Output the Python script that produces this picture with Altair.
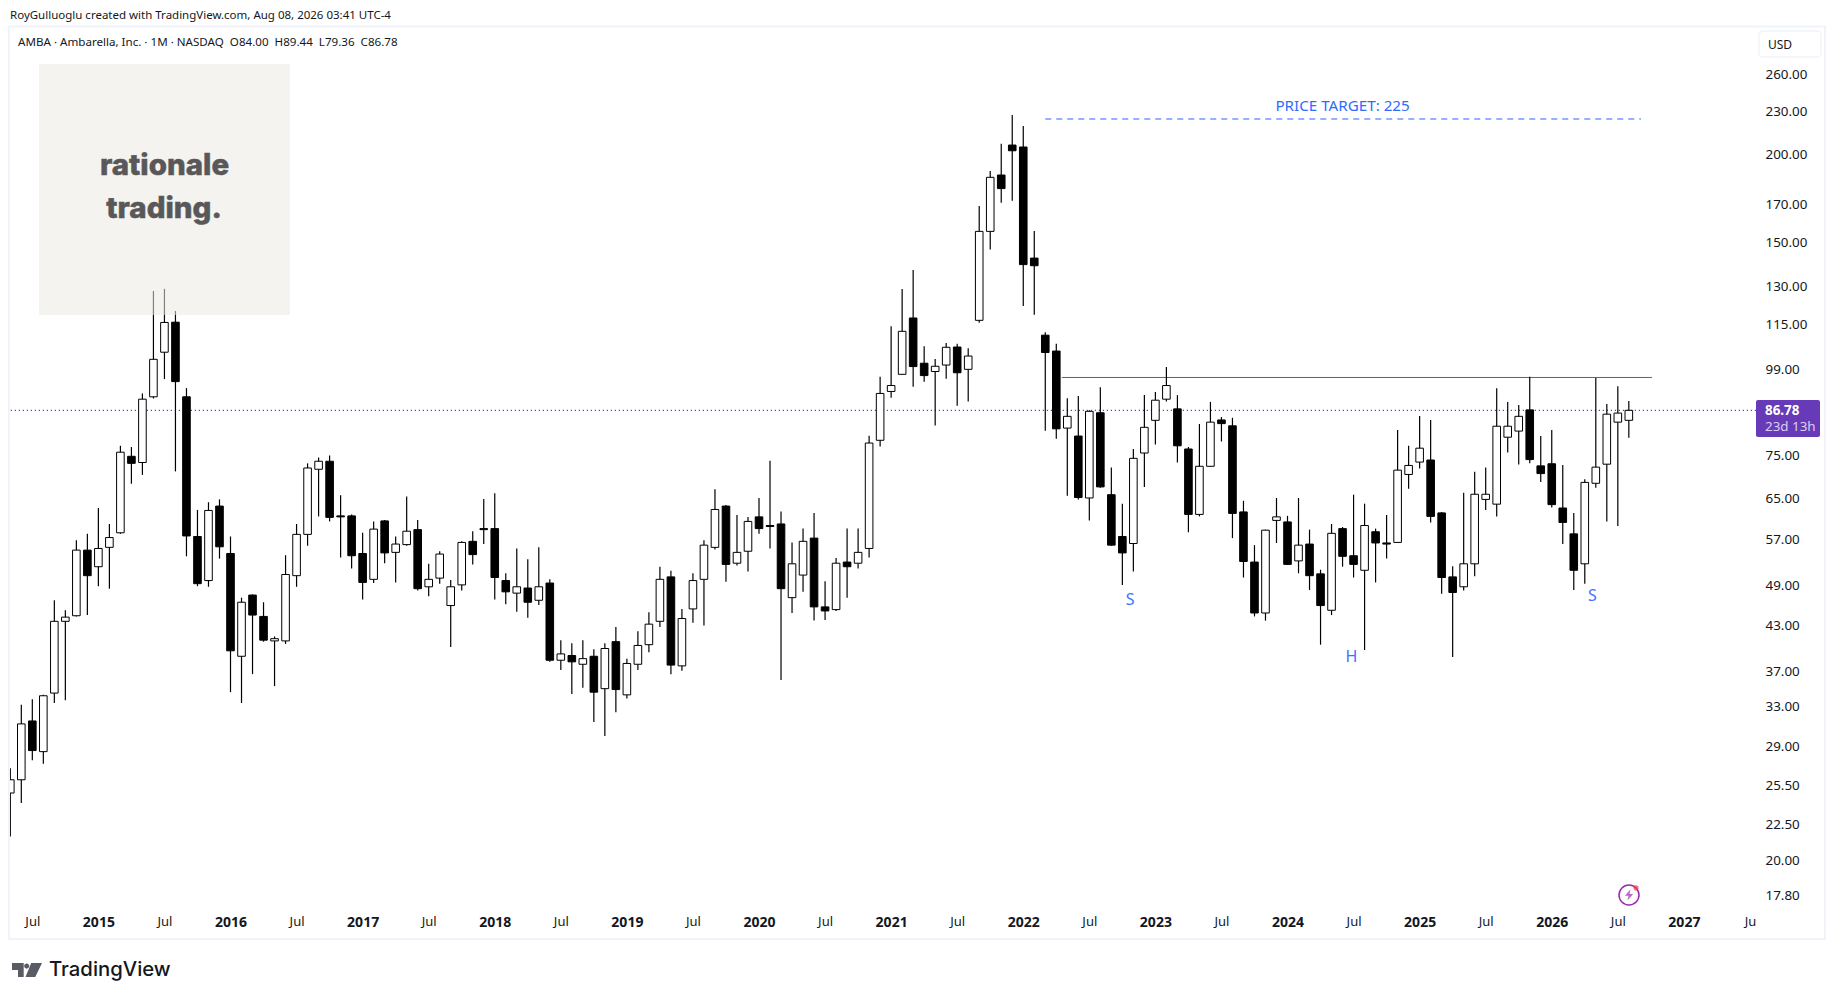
import altair as alt
import pandas as pd

# Monthly AMBA candles, May 2014 .. Aug 2026
opens = [24.9,26.0,31.5,28.5,34.5,43.6,44.4,55.0,52.1,55.5,58.2,74.7,73.2,90.7,104.9,115.7,90.7,57.5,49.8,63.5,
         54.4,38.9,47.5,44.3,40.9,40.9,50.6,57.9,71.6,73.5,61.5,61.5,54.4,50.0,60.5,54.6,56.0,58.8,48.8,50.2,
         45.9,49.1,56.6,59.0,59.0,49.8,47.8,48.6,46.7,49.4,38.4,39.0,37.9,38.9,35.0,40.8,34.3,37.9,40.4,43.6,
         50.4,37.7,45.4,50.0,55.5,63.5,52.7,54.8,61.3,59.6,59.9,47.1,50.7,57.2,45.7,45.3,52.9,52.7,55.3,78.7,
         92.3,97.6,117.3,101.2,98.5,100.6,106.7,99.2,116.4,155.6,187.0,206.2,204.9,142.6,110.9,105.3,81.9,79.8,65.2,86.1,
         65.9,57.5,56.2,75.5,84.0,90.0,87.2,76.5,61.8,72.3,84.1,82.5,62.3,52.9,44.8,60.6,60.3,53.1,56.1,50.9,
         45.2,59.0,54.0,51.5,58.4,56.3,56.4,70.4,73.3,73.8,62.1,50.4,48.8,52.6,64.9,63.9,79.5,81.1,86.9,72.4,
         72.9,63.1,58.0,52.6,68.4,72.8,83.5,84.0]
highs = [27.0,33.2,33.8,34.3,46.7,45.2,56.8,58.0,63.1,59.9,77.3,77.0,91.7,128.1,129.0,120.0,93.3,62.7,64.3,64.9,
         57.5,47.1,47.6,46.4,41.5,54.1,59.9,73.0,74.4,74.9,65.8,61.8,58.2,60.4,60.7,57.5,65.5,60.7,52.6,54.8,
         49.9,56.6,58.5,65.0,66.2,51.0,55.3,53.4,55.5,50.0,41.0,40.6,41.0,39.8,40.6,42.8,38.6,42.2,44.9,52.1,
         51.4,45.4,51.0,56.8,67.1,63.7,61.7,61.3,65.2,73.6,62.4,56.4,59.0,62.1,49.7,53.6,59.0,59.0,79.9,96.8,
         114.2,128.9,137.2,107.0,102.6,108.1,107.8,106.3,169.0,189.5,207.0,227.5,219.4,155.8,112.0,107.8,90.3,90.9,86.8,93.6,
         72.0,64.0,76.5,91.2,92.1,100.0,91.2,77.0,83.0,89.2,84.9,84.7,64.6,55.9,58.8,65.2,61.5,65.2,58.8,51.6,
         59.9,59.3,65.9,64.0,59.0,61.7,81.4,77.3,85.2,84.1,62.3,52.2,66.3,71.0,72.0,93.3,89.2,88.3,96.8,79.8,
         81.4,72.6,62.1,69.3,96.4,88.6,93.9,89.44]
lows = [21.6,24.1,27.7,27.4,33.4,33.7,44.3,44.5,48.9,48.5,58.0,68.3,70.3,90.2,96.1,71.1,53.9,48.9,48.8,53.5,
        34.6,33.4,36.7,40.8,35.3,40.5,48.8,55.8,61.4,60.4,53.7,51.8,46.8,49.4,52.7,49.5,55.8,48.2,47.3,49.3,
        40.1,48.2,52.5,56.1,46.8,46.1,45.0,44.1,46.0,38.2,37.2,34.4,35.1,31.4,30.0,32.4,33.9,37.2,39.4,42.8,
        36.7,37.1,43.4,43.0,55.1,49.6,52.3,51.3,58.0,55.3,36.0,44.8,48.0,43.7,43.8,45.1,47.1,51.8,53.7,77.1,
        90.4,97.5,93.7,95.3,82.6,96.2,88.1,89.3,115.5,146.6,170.8,172.0,122.0,118.5,81.2,79.1,65.7,64.9,60.6,67.4,
        55.8,49.1,51.3,67.6,77.6,89.3,73.2,58.3,61.4,72.2,78.4,57.2,50.3,44.3,43.7,56.3,52.4,51.0,48.3,40.4,
        44.5,52.1,50.3,39.7,49.5,53.5,56.3,67.2,71.8,60.2,47.7,38.8,48.2,50.5,62.7,61.4,75.6,72.7,73.0,68.7,
        63.2,56.1,48.3,49.3,67.4,60.4,59.5,79.36]
closes = [26.0,31.2,28.6,34.2,43.6,44.2,55.0,50.6,55.3,57.3,75.7,73.0,90.0,102.5,115.6,95.3,57.6,49.3,62.6,55.6,
          39.6,46.4,44.5,41.0,41.2,50.8,57.9,71.9,73.5,61.2,61.3,54.0,49.5,58.9,54.5,56.1,58.5,48.5,50.0,54.3,
          48.8,56.4,54.2,58.8,50.3,48.0,48.8,46.4,48.8,38.4,39.2,38.2,38.6,34.6,39.9,34.9,38.0,40.3,43.2,50.0,
          37.8,44.0,49.8,55.9,62.8,52.5,54.6,60.4,59.0,59.4,48.5,52.6,56.6,45.7,45.1,52.7,52.1,54.6,78.0,91.7,
          94.1,112.3,100.1,97.2,100.2,106.6,98.1,103.6,155.6,185.6,178.9,202.4,139.6,139.1,104.8,81.7,85.1,65.3,86.5,67.6,
          55.9,54.5,74.2,82.1,89.7,94.1,77.3,61.8,72.3,83.5,83.1,62.0,53.0,44.8,58.7,61.3,52.5,55.9,50.6,45.9,
          58.1,53.9,52.5,59.6,56.3,56.1,71.4,72.5,76.7,61.4,50.3,47.9,52.6,66.0,66.0,82.4,82.4,85.1,73.9,70.6,
          63.8,60.2,51.5,68.6,72.1,85.7,86.0,86.78]

price_ticks = [260,230,200,170,150,130,115,99,75,65,57,49,43,37,33,29,25.5,22.5,20,17.8]
time_ticks = [2,8,14,20,26,32,38,44,50,56,62,68,74,80,86,92,98,104,110,116,122,128,134,140,146,152,158]
time_labels = ["Jul","2015","Jul","2016","Jul","2017","Jul","2018","Jul","2019","Jul","2020","Jul","2021",
               "Jul","2022","Jul","2023","Jul","2024","Jul","2025","Jul","2026","Jul","2027","Ju"]

last_price = 86.78
neckline = [95.5, 149.1, 96.6]
target = [94.0, 148.1, 224.5]
notes = ["S", "H", "S"]
note_bars = [101.7, 121.8, 143.7]
note_prices = [46.8, 38.8, 47.3]

INK = "#131722"
BLUE = "#2962ff"
PURPLE = "#673ab7"
PANEL = "#f0f3fa"
FONT = "Noto Sans"

df = pd.DataFrame({"bar": range(len(opens)), "o": opens, "h": highs, "l": lows, "c": closes})
df["top"] = df[["o", "c"]].max(axis=1)
df["bot"] = df[["o", "c"]].min(axis=1)
df["dir"] = ["up" if c > o else "down" for o, c in zip(opens, closes)]

label_map = "{" + ",".join(f'"{t}":"{l}"' for t, l in zip(time_ticks, time_labels)) + "}"
xs = alt.Scale(domain=[-0.027, 158.55], nice=False, zero=False, padding=0)
ys = alt.Scale(type="log", domain=[17.28, 302.1], nice=False, padding=0)
YEAR_TEST = "datum.value % 12 == 8"
x_axis = alt.Axis(values=time_ticks, labelExpr=label_map + "[datum.value]", grid=False, domain=False, ticks=False,
                  title=None, labelPadding=10, labelOverlap=False, labelBound=False, labelFlush=False,
                  labelFont=FONT, labelColor=INK,
                  labelFontSize={"condition": {"test": YEAR_TEST, "value": 14}, "value": 13},
                  labelFontWeight={"condition": {"test": YEAR_TEST, "value": "bold"}, "value": "normal"})
y_axis = alt.Axis(values=price_ticks, format=".2f", orient="right", grid=False, domain=False, ticks=False,
                  title=None, labelPadding=9, labelOverlap=False, labelBound=False, labelFlush=False,
                  labelFont=FONT, labelFontSize=13.4, labelColor=INK)

def deco_text(text, px, py, size=12, color=INK, weight="normal", align="left", font=FONT, **kw):
    """Fixed page furniture; px/py are page pixels."""
    return alt.Chart(pd.DataFrame({"t": [text]})).mark_text(
        align=align, baseline="middle", fontSize=size, color=color, fontWeight=weight, font=font, **kw
    ).encode(x=alt.value(px - 10), y=alt.value(py - 28), text="t:N")

def deco_box(x0, x1, y0, y1, **kw):
    return alt.Chart(pd.DataFrame({"a": [0]})).mark_rect(**kw).encode(
        x=alt.value(x0 - 10), x2=alt.value(x1 - 10), y=alt.value(y0 - 28), y2=alt.value(y1 - 28))

def deco_symbol(path, px, py, size, **kw):
    return alt.Chart(pd.DataFrame({"a": [0]})).mark_point(shape=path, size=size, **kw).encode(
        x=alt.value(px - 10), y=alt.value(py - 28))

price_line = alt.Chart(pd.DataFrame({"p": [last_price]})).mark_rule(
    color=PURPLE, strokeWidth=1.2, strokeDash=[1.2, 2.8]
).encode(y=alt.Y("p:Q", scale=ys, axis=y_axis))

def level(row, dash=None):
    d = pd.DataFrame({"a": [row[0]], "b": [row[1]], "p": [row[2]]})
    kw = {"strokeDash": dash} if dash else {}
    return alt.Chart(d).mark_rule(color=BLUE, strokeWidth=1, **kw).encode(
        x=alt.X("a:Q", scale=xs, axis=x_axis), x2="b:Q", y=alt.Y("p:Q", scale=ys, axis=y_axis))

wicks = alt.Chart(df).mark_rule(color="#000000", strokeWidth=1.2, clip=True).encode(
    x=alt.X("bar:Q", scale=xs, axis=x_axis), y=alt.Y("l:Q", scale=ys, axis=y_axis), y2="h:Q")
bodies = alt.Chart(df).mark_bar(size=7.6, stroke="#000000", strokeWidth=1, clip=True).encode(
    x=alt.X("bar:Q", scale=xs, axis=x_axis),
    y=alt.Y("bot:Q", scale=ys, axis=y_axis), y2="top:Q",
    fill=alt.Fill("dir:N", scale=alt.Scale(domain=["up", "down"], range=["#ffffff", "#000000"]), legend=None),
)

note_marks = alt.Chart(pd.DataFrame({"b": note_bars, "p": note_prices, "t": notes})).mark_text(
    fontSize=16, color="#3d73ff", font=FONT, baseline="middle"
).encode(x=alt.X("b:Q", scale=xs, axis=x_axis), y=alt.Y("p:Q", scale=ys, axis=y_axis), text="t:N")
target_note = alt.Chart(pd.DataFrame({"b": [121.0], "p": [234.0], "t": ["PRICE TARGET: 225"]})).mark_text(
    fontSize=15.2, color="#2f6bff", font=FONT, baseline="middle"
).encode(x=alt.X("b:Q", scale=xs, axis=x_axis), y=alt.Y("p:Q", scale=ys, axis=y_axis), text="t:N")

BOLT = "M.25 -1L-.75 .15H-.1L-.3 1L.75 -.2H.1Z"
TV_LOGO = ("M-1 -.47H-.22V.47H-.6V0H-1Z"
           "M-.19 -.26A.17 .17 0 1 0 .15 -.26A.17 .17 0 1 0 -.19 -.26Z"
           "M.28 -.47H1L.55 .47H-.1Z")

layers = [
    deco_box(9, 1825, 26.5, 939, fillOpacity=0, stroke=PANEL, strokeWidth=2),
    price_line,
    level(neckline),
    level(target, [6, 5]),
    wicks,
    bodies,
    deco_box(39, 290, 64, 315, fill="#ebe9e1", opacity=0.55),
    deco_text("rationale", 164.5, 166, size=29.5, color="#58585a", weight=800, align="center", font="Inter",
              stroke="#58585a", strokeWidth=0.5),
    deco_text("trading.", 164, 209, size=29.5, color="#58585a", weight=800, align="center", font="Inter",
              stroke="#58585a", strokeWidth=0.5),
    note_marks,
    target_note,
    deco_text("RoyGulluoglu created with TradingView.com, Aug 08, 2026 03:41 UTC-4", 10, 16, size=11.5),
    deco_text("AMBA · Ambarella, Inc. · 1M · NASDAQ\u00a0\u00a0O84.00\u00a0\u00a0H89.44\u00a0\u00a0L79.36\u00a0\u00a0C86.78", 18, 43, size=11.6),
    deco_box(1759, 1821, 31, 57, fill="#ffffff", stroke=PANEL, strokeWidth=1.5, cornerRadius=4),
    deco_text("USD", 1768, 45, size=12),
    deco_box(1756, 1820, 400, 437, fill=PURPLE, cornerRadius=2),
    deco_text("86.78", 1765, 411, size=13.4, color="#ffffff", weight="bold"),
    deco_text("23d 13h", 1765, 427, size=13.4, color="#d9cff0"),
    deco_symbol("M-1 0A1 1 0 1 0 1 0A1 1 0 1 0 -1 0Z", 1629, 895, 400, stroke="#9c27b0", strokeWidth=1.5, fillOpacity=0),
    deco_symbol(BOLT, 1629, 895, 120, fill="#9c27b0", filled=True, strokeWidth=0),
    deco_symbol("M-1 0A1 1 0 1 0 1 0A1 1 0 1 0 -1 0Z", 1636, 888, 28, fill="#f23645", filled=True, strokeWidth=0),
    deco_symbol(TV_LOGO, 27, 970, 900, fill=INK, filled=True, strokeWidth=0),
    deco_text("TradingView", 49, 970, size=20.3, weight=500, font="Inter"),
]

chart = alt.layer(*layers).properties(
    width=1746, height=877,
    padding={"left": 2, "top": 20, "right": 71, "bottom": 87},
    autosize=alt.AutoSizeParams(type="none"),
    background="#ffffff",
).configure_view(strokeWidth=0)

chart.save("out.html", embed_options={"renderer": "svg", "actions": False})
